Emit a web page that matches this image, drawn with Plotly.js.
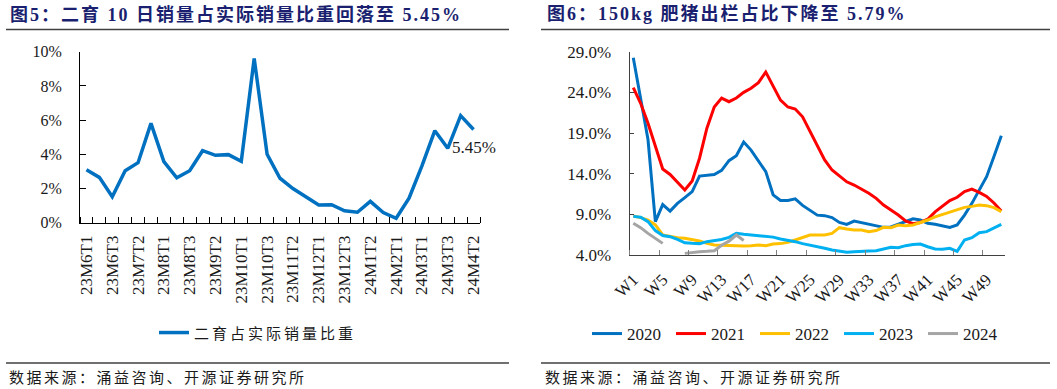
<!DOCTYPE html>
<html>
<head>
<meta charset="utf-8">
<script src="https://cdn.plot.ly/plotly-3.0.1.min.js"></script>
<style>
html,body{margin:0;padding:0;background:#fff;}
#chart{width:1057px;height:389px;}
</style>
</head>
<body>
<div id="chart"></div>
<script>
// ---------- Figure 5 data ----------
const cats5 = ['23M6T1','23M6T2','23M6T3','23M7T1','23M7T2','23M7T3','23M8T1','23M8T2','23M8T3','23M9T1','23M9T2','23M9T3','23M10T1','23M10T2','23M10T3','23M11T1','23M11T2','23M11T3','23M12T1','23M12T2','23M12T3','24M1T1','24M1T2','24M1T3','24M2T1','24M2T2','24M3T1','24M3T2','24M3T3','24M4T1','24M4T2'];
const share5 = [3.1, 2.65, 1.52, 3.04, 3.51, 5.81, 3.57, 2.63, 3.04, 4.21, 3.94, 3.98, 3.59, 9.61, 4.0, 2.6, 2.0, 1.52, 1.03, 1.05, 0.70, 0.61, 1.25, 0.59, 0.26, 1.43, 3.32, 5.38, 4.35, 6.26, 5.45];
const name5 = '二育占实际销量比重';
const yTicks5 = [0, 2, 4, 6, 8, 10];

// ---------- Figure 6 data ----------
const weeks = ['W1','W2','W3','W4','W5','W6','W7','W8','W9','W10','W11','W12','W13','W14','W15','W16','W17','W18','W19','W20','W21','W22','W23','W24','W25','W26','W27','W28','W29','W30','W31','W32','W33','W34','W35','W36','W37','W38','W39','W40','W41','W42','W43','W44','W45','W46','W47','W48','W49','W50','W51'];
const y2020 = [28.26, 23.1, 18.2, 8.1, 10.2, 9.4, 10.35, 11.05, 11.8, 13.7, 13.8, 13.9, 14.4, 15.6, 16.2, 17.9, 16.9, 15.6, 14.25, 11.4, 10.7, 10.7, 10.9, 10.1, 9.45, 8.9, 8.84, 8.6, 8.0, 7.77, 8.18, 7.98, 7.81, 7.6, 7.4, 7.45, 7.77, 8.1, 8.45, 8.3, 7.9, 7.77, 7.6, 7.4, 7.69, 8.9, 10.35, 12.0, 13.63, 16.1, 18.67];
const y2021 = [24.57, 22.65, 20.2, 17.5, 14.57, 13.9, 12.9, 12.0, 13.1, 15.9, 19.6, 22.2, 23.3, 22.85, 23.3, 24.0, 24.5, 25.2, 26.5, 24.8, 23.05, 22.2, 21.95, 21.0, 19.2, 17.3, 15.7, 14.45, 13.75, 13.0, 12.6, 12.1, 11.6, 10.97, 10.15, 9.53, 8.92, 8.18, 7.85, 8.0, 8.4, 9.3, 10.0, 10.7, 11.1, 11.8, 12.1, 11.7, 11.2, 10.4, 9.4];
const y2022 = [8.8, 8.6, 8.3, 7.7, 6.46, 6.25, 6.13, 6.05, 5.93, 5.72, 5.43, 5.23, 5.2, 5.15, 5.1, 5.1, 5.15, 5.23, 5.15, 5.35, 5.4, 5.55, 5.85, 6.13, 6.46, 6.46, 6.46, 6.66, 7.36, 7.2, 7.07, 7.07, 6.87, 7.0, 7.4, 7.36, 7.69, 7.6, 7.7, 8.0, 8.3, 8.7, 9.0, 9.25, 9.6, 9.86, 9.98, 10.15, 10.07, 9.82, 9.33];
const y2023 = [8.75, 8.65, 8.1, 7.0, 6.4, 6.25, 5.93, 5.5, 5.43, 5.4, 5.64, 5.75, 5.9, 6.17, 6.66, 6.54, 6.46, 6.38, 6.3, 6.2, 5.97, 5.85, 5.64, 5.4, 5.23, 5.0, 4.82, 4.61, 4.49, 4.33, 4.41, 4.49, 4.49, 4.53, 4.74, 4.94, 4.9, 5.15, 5.3, 5.35, 5.02, 4.74, 4.7, 4.82, 4.45, 5.85, 6.13, 6.75, 6.87, 7.28, 7.77];
const y2024 = [7.9, 7.36, 6.66, 6.05, 5.43, null, null, 4.2, 4.33, 4.41, 4.45, 4.53, 5.2, 5.7, 6.46, 5.79];
const years6 = ['2020', '2021', '2022', '2023', '2024'];
const series6 = [y2020, y2021, y2022, y2023, y2024];
const colors6 = ['#0070C0', '#FF0000', '#FFC000', '#00B0F0', '#A5A5A5'];
const yTicks6 = [4, 9, 14, 19, 24, 29];

// ---------- titles / texts ----------
const title5 = '图5：二育 10 日销量占实际销量比重回落至 5.45%';
const title6 = '图6：150kg 肥猪出栏占比下降至 5.79%';
const source = '数据来源：涌益咨询、开源证券研究所';

// ---------- layout helpers (page pixels -> paper) ----------
const W = 1057, H = 389;
const px = v => v / W;
const py = v => 1 - v / H;

const serif = 'Liberation Serif, Times New Roman, serif';
const cjk = 'Noto Sans CJK SC, sans-serif';
const mixed = 'Liberation Serif, Noto Sans CJK SC, serif';
const navy = '#1A1F70';
const ink = '#1a1a1a';

const idx5 = cats5.map((c, i) => i);
const idx6 = weeks.map((w, i) => i);

const traces = [{
  type: 'scatter', mode: 'lines',
  x: idx5, y: share5,
  name: '<span style="font-size:15px;letter-spacing:3px">' + name5 + '</span>',
  line: {color: '#0070C0', width: 3.5},
  xaxis: 'x', yaxis: 'y', legend: 'legend'
}];
series6.forEach((s, k) => {
  traces.push({
    type: 'scatter', mode: 'lines',
    x: idx6.slice(0, s.length), y: s,
    name: years6[k],
    line: {color: colors6[k], width: 3},
    xaxis: 'x2', yaxis: 'y2', legend: 'legend2',
    connectgaps: false
  });
});
// empty helper traces so the inside-tick overlay axes get drawn
traces.push({type: 'scatter', mode: 'lines', x: [], y: [], xaxis: 'x', yaxis: 'y3', showlegend: false, hoverinfo: 'skip'});
traces.push({type: 'scatter', mode: 'lines', x: [], y: [], xaxis: 'x2', yaxis: 'y4', showlegend: false, hoverinfo: 'skip'});

const lab5 = idx5.filter(i => i % 2 === 0);
const lab6 = idx6.filter(i => i % 4 === 0);

const yDom5 = [py(222.7), py(51.7)];
const yDom6 = [py(255), py(51.7)];

const layout = {
  width: W, height: H,
  margin: {l: 0, r: 0, t: 0, b: 0},
  paper_bgcolor: '#fff', plot_bgcolor: 'rgba(0,0,0,0)',
  showlegend: true,
  font: {family: mixed, color: ink},
  xaxis: {
    domain: [px(80), px(480)], anchor: 'y',
    range: [-0.5, cats5.length - 0.5],
    tickmode: 'array', tickvals: lab5, ticktext: lab5.map(i => cats5[i]),
    ticks: '', tickangle: -90, ticklabelstandoff: 5,
    tickfont: {family: serif, size: 17, color: ink},
    showline: true, linecolor: '#000', linewidth: 1,
    showgrid: false, zeroline: false,
    minor: {tickmode: 'linear', tick0: -0.5, dtick: 1, ticks: 'inside', ticklen: 6, tickcolor: '#000', showgrid: false}
  },
  yaxis: {
    domain: yDom5, anchor: 'x',
    range: [0, 10], tickmode: 'array', tickvals: yTicks5, ticktext: yTicks5.map(v => v + '%'),
    ticks: 'outside', ticklen: 14, tickcolor: 'rgba(0,0,0,0)',
    tickfont: {family: serif, size: 16, color: ink},
    showline: true, linecolor: '#000', linewidth: 1,
    showgrid: false, zeroline: false
  },
  yaxis3: {
    domain: yDom5, anchor: 'x', overlaying: 'y',
    range: [0, 10], tickmode: 'array', tickvals: yTicks5,
    ticks: 'inside', ticklen: 6, tickcolor: '#000', showticklabels: false,
    showline: false, showgrid: false, zeroline: false
  },
  xaxis2: {
    domain: [px(629.6), px(1005)], anchor: 'y2',
    range: [-0.5, weeks.length - 0.5],
    tickmode: 'array', tickvals: lab6, ticktext: lab6.map(i => weeks[i]),
    ticks: '', tickangle: -45, ticklabelstandoff: 7,
    tickfont: {family: serif, size: 17, color: ink},
    showline: true, linecolor: '#404040', linewidth: 1,
    showgrid: false, zeroline: false,
    minor: {tickmode: 'linear', tick0: -0.5, dtick: 4, ticks: 'inside', ticklen: 5, tickcolor: '#808080', showgrid: false}
  },
  yaxis2: {
    domain: yDom6, anchor: 'x2',
    range: [4, 29], tickmode: 'array', tickvals: yTicks6, ticktext: yTicks6.map(v => v.toFixed(1) + '%'),
    ticks: 'outside', ticklen: 14, tickcolor: 'rgba(0,0,0,0)',
    tickfont: {family: serif, size: 17, color: ink},
    showline: true, linecolor: '#404040', linewidth: 1,
    showgrid: false, zeroline: false
  },
  yaxis4: {
    domain: yDom6, anchor: 'x2', overlaying: 'y2',
    range: [4, 29], tickmode: 'array', tickvals: yTicks6,
    ticks: 'inside', ticklen: 4, tickcolor: '#404040', showticklabels: false,
    showline: false, showgrid: false, zeroline: false
  },
  legend: {
    orientation: 'h', x: px(258), xanchor: 'center', y: py(333), yanchor: 'middle',
    font: {family: mixed, size: 17, color: ink}, bgcolor: 'rgba(0,0,0,0)'
  },
  legend2: {
    orientation: 'h', x: px(797), xanchor: 'center', y: py(334), yanchor: 'middle',
    font: {family: mixed, size: 17, color: ink}, bgcolor: 'rgba(0,0,0,0)',
    entrywidth: 39, entrywidthmode: 'pixels'
  },
  annotations: [
    {xref: 'x', yref: 'y', x: idx5[idx5.length - 1], y: share5[share5.length - 1],
     text: share5[share5.length - 1].toFixed(2) + '%', showarrow: false,
     xanchor: 'center', yanchor: 'top', yshift: -6,
     font: {family: serif, size: 17, color: ink}},
    {xref: 'paper', yref: 'paper', x: px(8), y: py(14), xanchor: 'left', yanchor: 'middle',
     text: '<span style="letter-spacing:2px">' + title5 + '</span>', showarrow: false,
     font: {family: mixed, size: 18, color: navy, weight: 'bold'}},
    {xref: 'paper', yref: 'paper', x: px(545), y: py(14), xanchor: 'left', yanchor: 'middle',
     text: '<span style="letter-spacing:2px">' + title6 + '</span>', showarrow: false,
     font: {family: mixed, size: 18, color: navy, weight: 'bold'}},
    {xref: 'paper', yref: 'paper', x: px(7), y: py(376), xanchor: 'left', yanchor: 'middle',
     text: '<span style="letter-spacing:2.5px">' + source + '</span>', showarrow: false,
     font: {family: cjk, size: 15, color: ink}},
    {xref: 'paper', yref: 'paper', x: px(543), y: py(376), xanchor: 'left', yanchor: 'middle',
     text: '<span style="letter-spacing:2.5px">' + source + '</span>', showarrow: false,
     font: {family: cjk, size: 15, color: ink}}
  ],
  shapes: [
    {type: 'line', xref: 'paper', yref: 'paper', x0: px(6), x1: px(509), y0: py(29.5), y1: py(29.5), line: {color: '#404040', width: 1.5}},
    {type: 'line', xref: 'paper', yref: 'paper', x0: px(541), x1: px(1050), y0: py(29.5), y1: py(29.5), line: {color: '#404040', width: 1.5}},
    {type: 'line', xref: 'paper', yref: 'paper', x0: px(6), x1: px(509), y0: py(363), y1: py(363), line: {color: '#404040', width: 1.5}},
    {type: 'line', xref: 'paper', yref: 'paper', x0: px(541), x1: px(1050), y0: py(363), y1: py(363), line: {color: '#404040', width: 1.5}}
  ]
};

Plotly.newPlot('chart', traces, layout, {staticPlot: true, displayModeBar: false});
</script>
</body>
</html>
